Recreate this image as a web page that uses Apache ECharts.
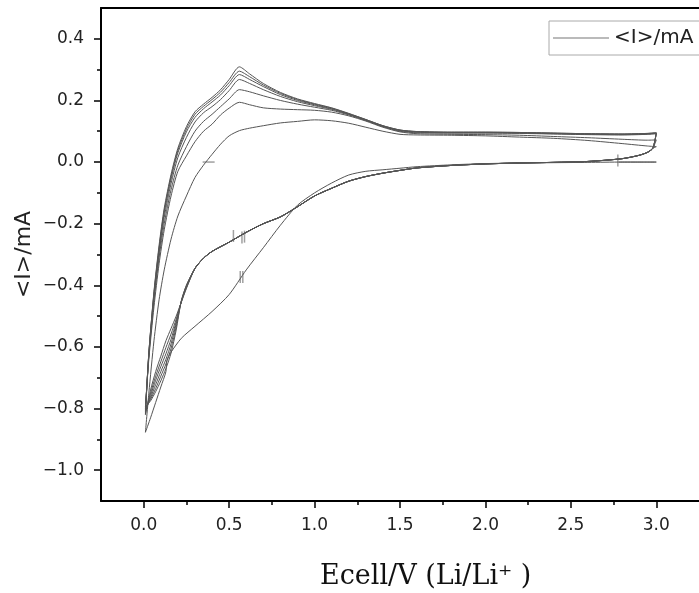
<!DOCTYPE html>
<html><head><meta charset="utf-8">
<script src="https://cdn.jsdelivr.net/npm/echarts@6/dist/echarts.min.js"></script>
<style>html,body{margin:0;padding:0;background:#fff}#c{width:699px;height:593px}</style>
</head><body><div id="c"></div>
<script>
// ---- tick labels ----
const xLabelValues = [0.0, 0.5, 1.0, 1.5, 2.0, 2.5, 3.0];
const xMinorValues = [0.25, 0.75, 1.25, 1.75, 2.25, 2.75];
const yLabelValues = [-1.0, -0.8, -0.6, -0.4, -0.2, 0.0, 0.2, 0.4];
const yMinorValues = [-0.9, -0.7, -0.5, -0.3, -0.1, 0.1, 0.3];

// ---- cycle 1 cathodic (V, I) ----
const c1V = [2.78, 3.0, 2.9, 2.8, 2.6, 2.4, 2.2, 2.0, 1.8, 1.6, 1.5, 1.4, 1.3, 1.2, 1.1, 1.0, 0.9, 0.8, 0.7, 0.6, 0.5, 0.4, 0.3, 0.22, 0.16, 0.135, 0.13, 0.1, 0.07, 0.04];
const c1I = [0.0, 0.0, 0.0, 0.0, -0.001, -0.002, -0.003, -0.005, -0.009, -0.015, -0.02, -0.025, -0.03, -0.042, -0.068, -0.1, -0.14, -0.205, -0.278, -0.35, -0.43, -0.485, -0.533, -0.572, -0.617, -0.645, -0.68, -0.73, -0.78, -0.83];

// ---- cathodic sweep shared by cycles 2-7 (upper part) ----
const cathV = [2.98, 2.95, 2.9, 2.8, 2.6, 2.4, 2.2, 2.0, 1.8, 1.6, 1.5, 1.4, 1.3, 1.2, 1.1, 1.0, 0.9, 0.8, 0.7, 0.6, 0.5, 0.4, 0.35, 0.3];
const cathI = [0.045, 0.032, 0.022, 0.011, 0.002, -0.001, -0.003, -0.006, -0.011, -0.019, -0.027, -0.036, -0.047, -0.062, -0.085, -0.11, -0.145, -0.178, -0.2, -0.228, -0.26, -0.29, -0.312, -0.345];

// ---- cathodic tails near 0 V, cycles 2-7 ----
const tailV = [0.25, 0.22, 0.19, 0.16, 0.13, 0.1, 0.07, 0.04];
const tail2 = [-0.40, -0.45, -0.545, -0.62, -0.67, -0.71, -0.745, -0.775];
const tail3 = [-0.40, -0.452, -0.535, -0.605, -0.655, -0.695, -0.735, -0.77];
const tail4 = [-0.405, -0.452, -0.525, -0.59, -0.64, -0.68, -0.722, -0.765];
const tail5 = [-0.405, -0.453, -0.518, -0.575, -0.622, -0.664, -0.708, -0.758];
const tail6 = [-0.408, -0.454, -0.51, -0.558, -0.602, -0.648, -0.695, -0.75];
const tail7 = [-0.41, -0.455, -0.50, -0.54, -0.58, -0.63, -0.68, -0.74];

// ---- anodic sweeps ----
const anodV = [0.01, 0.03, 0.06, 0.09, 0.12, 0.16, 0.2, 0.25, 0.3, 0.35, 0.4, 0.45, 0.5, 0.56, 0.62, 0.7, 0.8, 0.9, 1.0, 1.1, 1.2, 1.3, 1.4, 1.5, 1.6, 1.8, 2.0, 2.2, 2.4, 2.6, 2.8, 2.95, 3.0];
const an1 = [-0.877, -0.75, -0.58, -0.447, -0.35, -0.25, -0.175, -0.11, -0.05, -0.01, 0.025, 0.058, 0.085, 0.102, 0.11, 0.118, 0.127, 0.132, 0.137, 0.134, 0.126, 0.113, 0.1, 0.09, 0.088, 0.087, 0.085, 0.081, 0.077, 0.07, 0.06, 0.052, 0.05];
const an2 = [-0.795, -0.64, -0.47, -0.33, -0.22, -0.11, -0.03, 0.02, 0.066, 0.10, 0.123, 0.153, 0.175, 0.194, 0.186, 0.176, 0.172, 0.170, 0.168, 0.162, 0.15, 0.133, 0.113, 0.098, 0.092, 0.09, 0.089, 0.087, 0.083, 0.079, 0.074, 0.071, 0.072];
const an3 = [-0.80, -0.63, -0.45, -0.31, -0.20, -0.09, -0.01, 0.05, 0.10, 0.132, 0.155, 0.18, 0.205, 0.235, 0.228, 0.215, 0.2, 0.188, 0.178, 0.168, 0.153, 0.135, 0.115, 0.1, 0.095, 0.094, 0.094, 0.093, 0.091, 0.089, 0.088, 0.09, 0.092];
const an4 = [-0.805, -0.625, -0.44, -0.295, -0.18, -0.07, 0.015, 0.08, 0.13, 0.16, 0.18, 0.203, 0.232, 0.268, 0.255, 0.235, 0.213, 0.196, 0.183, 0.171, 0.155, 0.136, 0.116, 0.102, 0.097, 0.095, 0.095, 0.094, 0.092, 0.09, 0.089, 0.091, 0.093];
const an5 = [-0.81, -0.62, -0.43, -0.285, -0.165, -0.055, 0.03, 0.098, 0.145, 0.173, 0.195, 0.218, 0.248, 0.284, 0.268, 0.245, 0.219, 0.2, 0.186, 0.173, 0.156, 0.137, 0.117, 0.103, 0.098, 0.096, 0.096, 0.095, 0.093, 0.091, 0.09, 0.092, 0.094];
const an6 = [-0.815, -0.62, -0.425, -0.278, -0.158, -0.047, 0.038, 0.107, 0.155, 0.181, 0.203, 0.227, 0.258, 0.295, 0.277, 0.25, 0.223, 0.203, 0.188, 0.175, 0.157, 0.138, 0.118, 0.104, 0.099, 0.097, 0.097, 0.096, 0.094, 0.092, 0.091, 0.093, 0.095];
const an7 = [-0.82, -0.62, -0.42, -0.27, -0.15, -0.04, 0.045, 0.115, 0.163, 0.188, 0.21, 0.235, 0.268, 0.309, 0.286, 0.255, 0.226, 0.205, 0.19, 0.176, 0.158, 0.138, 0.118, 0.104, 0.099, 0.097, 0.097, 0.096, 0.094, 0.092, 0.091, 0.093, 0.095];

// ---- small segment markers seen in the plot ----
const vMarkV = [0.525, 0.575, 0.59, 0.565, 0.58, 2.775];
const vMarkI = [-0.24, -0.245, -0.242, -0.373, -0.373, 0.005];
const hMarkV = [0.38];
const hMarkI = [0.0];

const seriesName = '<I>/mA';
const tails = [tail2, tail3, tail4, tail5, tail6, tail7];
const anods = [an2, an3, an4, an5, an6, an7];

function pairs(vs, is) { return vs.map((v, i) => [v, is[i]]); }

const cycles = [];
cycles.push(pairs(c1V, c1I).concat(pairs(anodV, an1)));
let prev = an1;
for (let k = 0; k < 6; k++) {
  const d = [[3.0, prev[prev.length - 1]]]
    .concat(pairs(cathV, cathI))
    .concat(pairs(tailV, tails[k]))
    .concat(pairs(anodV, anods[k]));
  cycles.push(d);
  prev = anods[k];
}

const FONT = 'DejaVu Sans';
const fmt = v => (v < 0 ? '\u2212' : '') + Math.abs(v).toFixed(1);

const series = cycles.map(d => ({
  type: 'line', name: seriesName, data: d, showSymbol: false, symbol: 'none',
  smooth: 0.25, lineStyle: { color: '#555', width: 1 }, itemStyle: { color: '#777' },
  animation: false, silent: true, z: 3
}));
series.push({
  type: 'scatter', name: 'vmarks', data: pairs(vMarkV, vMarkI), symbol: 'rect',
  symbolSize: [1.5, 12], itemStyle: { color: '#888' }, silent: true, animation: false
});
series.push({
  type: 'scatter', name: 'hmarks', data: pairs(hMarkV, hMarkI), symbol: 'rect',
  symbolSize: [12, 1.5], itemStyle: { color: '#888' }, silent: true, animation: false
});

const chart = echarts.init(document.getElementById('c'), null, { renderer: 'canvas' });
chart.setOption({
  backgroundColor: '#fff',
  animation: false,
  title: {
    text: 'Ecell/V (Li/Li\u207A )', left: 320, top: 563, padding: 0,
    textStyle: { fontFamily: 'DejaVu Serif', fontSize: 27, fontWeight: 'normal', color: '#111' }
  },
  legend: {
    data: [{ name: seriesName, icon: 'rect' }], left: 549, top: 21, orient: 'horizontal',
    itemWidth: 56, itemHeight: 1, padding: [7, 12, 7, 4],
    borderColor: '#aaa', borderWidth: 1, borderRadius: 0,
    textStyle: { fontFamily: FONT, fontSize: 20, color: '#222' }
  },
  grid: { left: 101, top: 8, right: -11, bottom: 92, containLabel: false },
  xAxis: [
    {
      type: 'value', position: 'bottom', min: -0.25, max: 3.25,
      axisLine: { show: true, onZero: false, lineStyle: { color: '#000', width: 2 } },
      axisTick: { show: true, customValues: xLabelValues, length: 7, lineStyle: { color: '#000', width: 1.5 } },
      axisLabel: { show: true, customValues: xLabelValues, formatter: fmt, margin: 16,
        fontFamily: FONT, fontSize: 17, color: '#222' },
      splitLine: { show: false }
    },
    {
      type: 'value', position: 'bottom', min: -0.25, max: 3.25,
      axisLine: { show: false, onZero: false },
      axisTick: { show: true, customValues: xMinorValues, length: 4, lineStyle: { color: '#000', width: 1.5 } },
      axisLabel: { show: false }, splitLine: { show: false }
    },
    {
      type: 'value', position: 'top', min: -0.25, max: 3.25,
      axisLine: { show: true, onZero: false, lineStyle: { color: '#000', width: 2 } },
      axisTick: { show: false }, axisLabel: { show: false }, splitLine: { show: false }
    }
  ],
  yAxis: [
    {
      type: 'value', position: 'left', min: -1.1, max: 0.5,
      name: seriesName, nameLocation: 'middle', nameGap: 66, nameRotate: 90,
      nameMoveOverlap: false,
      nameTextStyle: { fontFamily: FONT, fontSize: 22, color: '#222' },
      axisLine: { show: true, onZero: false, lineStyle: { color: '#000', width: 2 } },
      axisTick: { show: true, customValues: yLabelValues, length: 7, lineStyle: { color: '#000', width: 1.5 } },
      axisLabel: { show: true, customValues: yLabelValues, formatter: fmt, margin: 17,
        fontFamily: FONT, fontSize: 17, color: '#222' },
      splitLine: { show: false }
    },
    {
      type: 'value', position: 'left', min: -1.1, max: 0.5,
      axisLine: { show: false, onZero: false },
      axisTick: { show: true, customValues: yMinorValues, length: 4, lineStyle: { color: '#000', width: 1.5 } },
      axisLabel: { show: false }, splitLine: { show: false }
    }
  ],
  series: series
});
</script>
</body></html>
